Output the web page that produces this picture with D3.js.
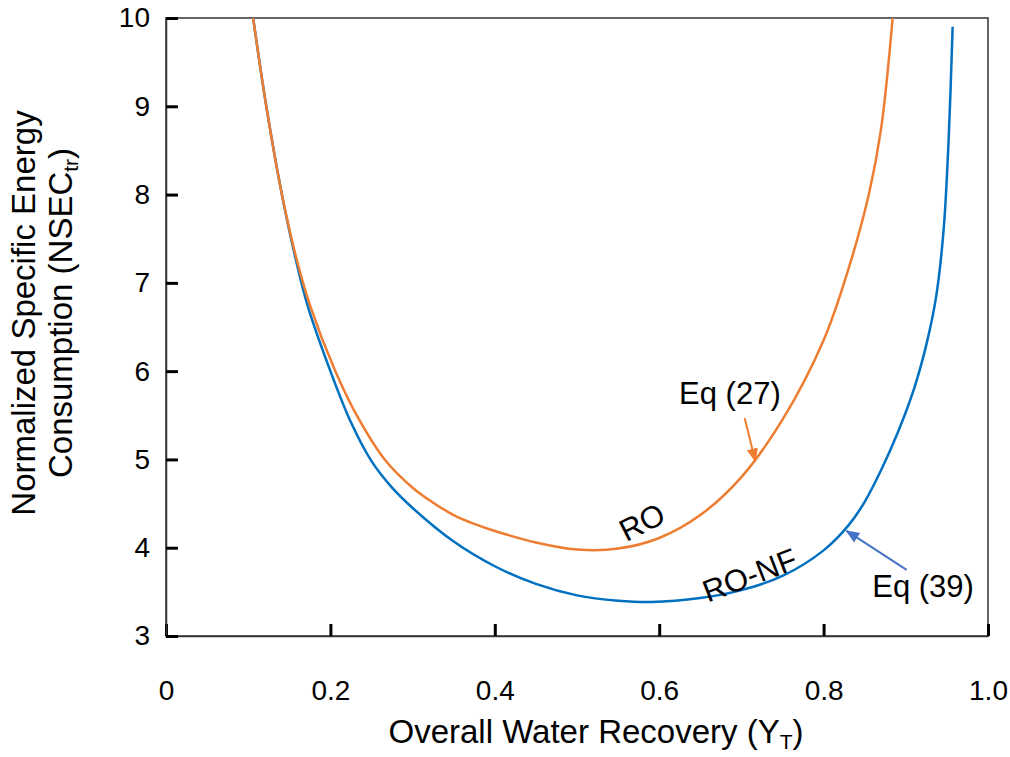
<!DOCTYPE html>
<html>
<head>
<meta charset="utf-8">
<script src="https://cdn.jsdelivr.net/npm/d3@7"></script>
<style>
  body { margin: 0; background: #fff; }
  svg { font-family: "Liberation Sans", Arial, sans-serif; }
</style>
</head>
<body>
<svg id="chart" width="1010" height="757"></svg>
<script>
// RO curve, Eq (27)
const roX = [0.106, 0.122, 0.141, 0.158, 0.175, 0.206, 0.235, 0.266, 0.30, 0.325, 0.35, 0.375, 0.40, 0.45, 0.50, 0.55, 0.60, 0.65, 0.70, 0.75, 0.80, 0.83, 0.855, 0.87, 0.884];
const roY = [10, 9, 8, 7.3, 6.75, 6.0, 5.45, 5.0, 4.68, 4.51, 4.37, 4.27, 4.19, 4.06, 3.98, 3.99, 4.11, 4.37, 4.8, 5.45, 6.35, 7.15, 8.0, 8.75, 10];

// RO-NF curve, Eq (39)
const ronfX = [0.106, 0.122, 0.141, 0.157, 0.172, 0.20, 0.225, 0.25, 0.275, 0.30, 0.35, 0.40, 0.45, 0.50, 0.55, 0.59, 0.65, 0.70, 0.75, 0.80, 0.83, 0.85, 0.87, 0.89, 0.91, 0.925, 0.937, 0.946, 0.952, 0.957];
const ronfY = [10, 9, 8, 7.3, 6.75, 6.0, 5.42, 4.98, 4.68, 4.45, 4.07, 3.79, 3.59, 3.46, 3.40, 3.385, 3.43, 3.52, 3.68, 3.97, 4.25, 4.52, 4.88, 5.3, 5.8, 6.3, 6.85, 7.6, 8.6, 9.9];

const xTicks = [0, 0.2, 0.4, 0.6, 0.8, 1.0];
const xTickLabels = ["0", "0.2", "0.4", "0.6", "0.8", "1.0"];
const yTicks = [3, 4, 5, 6, 7, 8, 9, 10];

var width = 1010,
    height = 757;

const margin = {top: 18, right: 22, bottom: 121, left: 166};

const orange = "#ED7D31",
    blue = "#0070C0",
    arrowBlue = "#4472C4";

var svg = d3.select("#chart");

var x = d3.scaleLinear().domain([0, 1]).range([margin.left, width - margin.right]);
var y = d3.scaleLinear().domain([3, 10]).range([height - margin.bottom, margin.top]);

function translate(a, b) {
    return "translate(" + a + "," + b + ")";
}

// clip curves to plot area
var defs = svg.append("defs");
defs.append("clipPath").attr("id", "plot-clip")
    .append("rect")
    .attr("x", x(0)).attr("y", y(10) - 1)
    .attr("width", x(1) - x(0)).attr("height", y(3) - y(10) + 1);

// arrow markers
[["arrow-orange", orange], ["arrow-blue", arrowBlue]].forEach(function(m) {
    defs.append("marker")
        .attr("id", m[0])
        .attr("viewBox", "0 0 10 10")
        .attr("refX", 9).attr("refY", 5)
        .attr("markerWidth", 7).attr("markerHeight", 7)
        .attr("orient", "auto")
        .append("path")
        .attr("d", "M0,1 L10,5 L0,9 Z")
        .attr("fill", m[1]);
});

// frame
svg.append("rect")
    .attr("x", x(0)).attr("y", y(10))
    .attr("width", x(1) - x(0)).attr("height", y(3) - y(10))
    .attr("fill", "none")
    .attr("stroke", "#333")
    .attr("stroke-width", 1.5);

// axes: ticks pointing inward
let xAxis = d3.axisBottom(x)
    .tickValues(xTicks)
    .tickFormat((d, i) => xTickLabels[i])
    .tickSizeInner(-12)
    .tickSizeOuter(0)
    .tickPadding(44);

let xg = svg.append("g").attr("transform", translate(0, y(3))).call(xAxis);
xg.select(".domain").attr("stroke", "#333").attr("stroke-width", 1.5);
xg.selectAll(".tick line").attr("stroke", "#000").attr("stroke-width", 3);
xg.selectAll(".tick text").attr("font-size", 28).attr("fill", "#000")
    .attr("font-family", "Liberation Sans, Arial, sans-serif");

let yAxis = d3.axisLeft(y)
    .tickValues(yTicks)
    .tickFormat(d3.format("d"))
    .tickSizeInner(-12)
    .tickSizeOuter(0)
    .tickPadding(16);

let yg = svg.append("g").attr("transform", translate(x(0), 0)).call(yAxis);
yg.select(".domain").attr("stroke", "#333").attr("stroke-width", 1.5);
yg.selectAll(".tick line").attr("stroke", "#000").attr("stroke-width", 3);
yg.selectAll(".tick text").attr("font-size", 28).attr("fill", "#000")
    .attr("font-family", "Liberation Sans, Arial, sans-serif");

// curves
let line = d3.line()
    .x(d => x(d[0]))
    .y(d => y(d[1]))
    .curve(d3.curveCatmullRom.alpha(0.5));

let curves = svg.append("g").attr("clip-path", "url(#plot-clip)");

curves.append("path")
    .datum(ronfX.map((v, i) => [v, ronfY[i]]))
    .attr("d", line)
    .attr("fill", "none")
    .attr("stroke", blue)
    .attr("stroke-width", 2.5);

curves.append("path")
    .datum(roX.map((v, i) => [v, roY[i]]))
    .attr("d", line)
    .attr("fill", "none")
    .attr("stroke", orange)
    .attr("stroke-width", 2.5);

// axis titles
svg.append("text")
    .attr("x", 596)
    .attr("y", 743)
    .attr("text-anchor", "middle")
    .attr("font-size", 33)
    .html("Overall Water Recovery (Y<tspan font-size='21' dy='6'>T</tspan><tspan dy='-6'>)</tspan>");

let yTitle = svg.append("g").attr("transform", translate(0, 313) + " rotate(-90)");
yTitle.append("text")
    .attr("x", 0).attr("y", 35)
    .attr("text-anchor", "middle")
    .attr("font-size", 33)
    .text("Normalized Specific Energy");
yTitle.append("text")
    .attr("x", 0).attr("y", 72)
    .attr("text-anchor", "middle")
    .attr("font-size", 33)
    .html("Consumption (NSEC<tspan font-size='21' dy='6'>tr</tspan><tspan dy='-6'>)</tspan>");

// annotations (data coordinates)
const labels = [
    {text: "RO", x: 0.579, y: 4.29, angle: -27},
    {text: "RO-NF", x: 0.71, y: 3.69, angle: -21},
    {text: "Eq (27)", x: 0.686, y: 5.63, angle: 0},
    {text: "Eq (39)", x: 0.921, y: 3.44, angle: 0}
];

svg.append("g").selectAll("text")
    .data(labels)
    .enter()
    .append("text")
    .attr("transform", d => translate(x(d.x), y(d.y)) + " rotate(" + d.angle + ")")
    .attr("text-anchor", "middle")
    .attr("dy", d => d.angle ? "0.35em" : 0)
    .attr("font-size", 31)
    .text(d => d.text);

svg.append("line")
    .attr("x1", x(0.704)).attr("y1", y(5.47))
    .attr("x2", x(0.717)).attr("y2", y(4.98))
    .attr("stroke", orange).attr("stroke-width", 2)
    .attr("marker-end", "url(#arrow-orange)");

svg.append("line")
    .attr("x1", x(0.901)).attr("y1", y(3.75))
    .attr("x2", x(0.828)).attr("y2", y(4.19))
    .attr("stroke", arrowBlue).attr("stroke-width", 2)
    .attr("marker-end", "url(#arrow-blue)");
</script>
</body>
</html>
